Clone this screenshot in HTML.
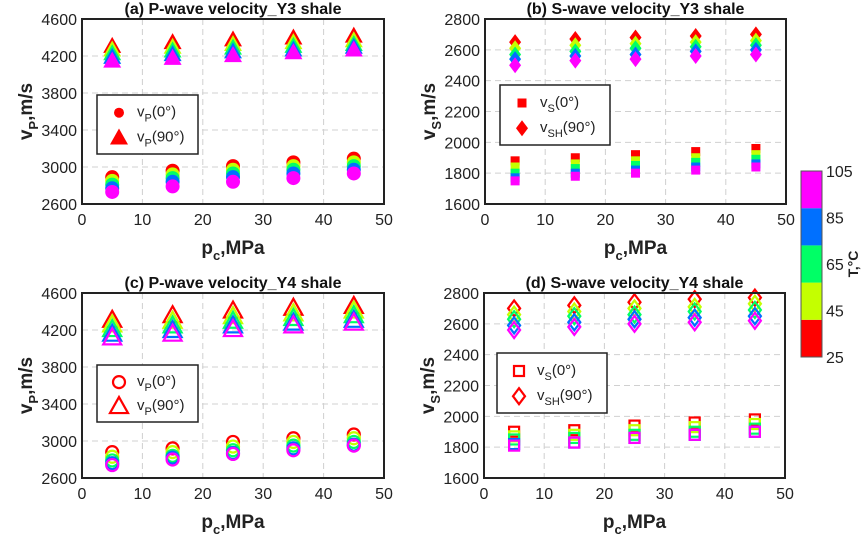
<!DOCTYPE html>
<html><head><meta charset="utf-8"><style>
body{margin:0;background:#fff}
svg{font-family:"Liberation Sans",Arial,sans-serif}
</style></head><body>
<svg id="c" width="865" height="537" xmlns="http://www.w3.org/2000/svg"></svg>
<script>
const pressures=[5,15,25,35,45];
const temps=[25,45,65,85,105];
const colors=["#ff0000","#c4ff00","#00ff66","#0070ff","#ff00ff"];
const xTicks=[0,10,20,30,40,50];
const pTicks=[2600,3000,3400,3800,4200,4600];
const sTicks=[1600,1800,2000,2200,2400,2600,2800];
const cbTicks=[25,45,65,85,105];
// panel a
const aP0=[[2890,2850,2810,2770,2730],[2960,2920,2880,2840,2790],[3010,2970,2930,2890,2840],[3050,3010,2970,2930,2880],[3090,3050,3010,2970,2930]];
const aP90=[[4310,4270,4230,4190,4150],[4350,4300,4260,4220,4180],[4380,4330,4290,4250,4210],[4400,4350,4310,4270,4240],[4420,4370,4330,4300,4270]];
// panel b
const bS0=[[1880,1840,1800,1770,1750],[1900,1860,1830,1800,1780],[1920,1880,1850,1820,1800],[1940,1900,1870,1840,1820],[1960,1920,1890,1860,1840]];
const bSH=[[2650,2610,2570,2540,2500],[2670,2630,2590,2560,2530],[2680,2640,2610,2570,2540],[2690,2650,2620,2590,2560],[2700,2660,2630,2600,2570]];
// panel c
const cP0=[[2880,2830,2790,2760,2740],[2920,2880,2840,2820,2800],[2990,2940,2900,2870,2860],[3030,2990,2950,2920,2900],[3070,3030,2990,2960,2950]];
const cP90=[[4310,4260,4210,4160,4120],[4360,4300,4250,4200,4160],[4410,4350,4300,4250,4210],[4440,4380,4330,4280,4250],[4460,4410,4360,4310,4280]];
// panel d
const dS0=[[1900,1870,1850,1820,1810],[1910,1880,1860,1830,1830],[1940,1910,1880,1860,1860],[1960,1930,1900,1880,1880],[1980,1950,1920,1900,1900]];
const dSH=[[2700,2660,2630,2590,2560],[2720,2680,2650,2610,2580],[2740,2700,2660,2630,2600],[2760,2710,2680,2640,2610],[2770,2730,2690,2650,2620]];

const svg=document.getElementById('c');
const NS="http://www.w3.org/2000/svg";
function mk(tag,at,txt){const e=document.createElementNS(NS,tag);for(const k in at)e.setAttribute(k,at[k]);if(txt!==undefined)e.textContent=txt;svg.appendChild(e);return e;}

function marker(type,x,y,col,filled){
  let e;
  const fill=filled?col:"none", sw=filled?0:2.2;
  if(type==="circle") e=mk("circle",{cx:x,cy:y,r:filled?7:6,fill:fill,stroke:col,"stroke-width":sw});
  else if(type==="tri") e=mk("polygon",{points:`${x},${y-9} ${x+9},${y+7} ${x-9},${y+7}`,fill:fill,stroke:col,"stroke-width":sw,"stroke-linejoin":"miter"});
  else if(type==="sq"){const h=filled?4.5:5;e=mk("rect",{x:x-h,y:y-h,width:2*h,height:2*h,fill:fill,stroke:col,"stroke-width":sw});}
  else e=mk("polygon",{points:`${x},${y-8} ${x+6},${y} ${x},${y+8} ${x-6},${y}`,fill:fill,stroke:col,"stroke-width":sw});
  return e;
}

function panel(o){
  const {L,R,T,B,ymin,ymax,yt,title,ylab,sub,s1,s2,m1,m2,filled,leg,l1,l2,key}=o;
  const xs=v=>L+(v-0)/50*(R-L);
  const ys=v=>B-(v-ymin)/(ymax-ymin)*(B-T);
  const g=mk("rect",{x:L,y:T,width:R-L,height:B-T,fill:"#fff"});
  
  
  xTicks.forEach(t=>{
    if(t>0&&t<50){const l=mk("line",{x1:xs(t),x2:xs(t),y1:T,y2:B,stroke:"#d0d0d0","stroke-dasharray":"6,4","stroke-width":1});
    }
    const tx=mk("text",{x:xs(t),y:B+21,"font-size":16,"text-anchor":"middle",fill:"#222"},t);
    
  });
  yt.forEach(t=>{
    if(t>ymin&&t<ymax){const l=mk("line",{x1:L,x2:R,y1:ys(t),y2:ys(t),stroke:"#d0d0d0","stroke-dasharray":"6,4","stroke-width":1});
    }
    const tx=mk("text",{x:L-5,y:ys(t)+6,"font-size":16,"text-anchor":"end",fill:"#222"},t);
    
  });
  [[s1,m1],[s2,m2]].forEach(([s,m])=>{
    pressures.forEach((p,i)=>{
      temps.forEach((tmp,j)=>{
        const e=marker(m,xs(p),ys(s[i][j]),colors[j],filled);
        
        
      });
    });
  });
  const fr=mk("rect",{x:L,y:T,width:R-L,height:B-T,fill:"none",stroke:"#222","stroke-width":2});
  
  const ti=mk("text",{x:(L+R)/2,y:T-5,"font-size":16,"font-weight":"bold","text-anchor":"middle",fill:"#111"},title);
  
  const xl=mk("text",{x:(L+R)/2,y:B+50,"font-size":19,"font-weight":"bold","text-anchor":"middle",fill:"#222"});
  
  xl.innerHTML='p<tspan font-size="13" dy="6">c</tspan><tspan dy="-6">,MPa</tspan>';
  const yl=mk("text",{transform:`translate(${L-50},${(T+B)/2}) rotate(-90)`,"font-size":19,"font-weight":"bold","text-anchor":"middle",fill:"#222"});
  
  yl.innerHTML=`v<tspan font-size="13" dy="6">${sub}</tspan><tspan dy="-6">,m/s</tspan>`;
  const lb=mk("rect",{x:leg[0],y:leg[1],width:leg[2],height:leg[3],fill:"#fff",stroke:"#222","stroke-width":1.5});
  
  const mx=leg[0]+22;
  [[m1,l1],[m2,l2]].forEach(([m,lab],k)=>{
    const y=leg[1]+leg[3]*(k===0?0.3:0.72);
    const e=marker(m,mx,y,colors[0],filled);
    if(m==="circle"&&filled){e.setAttribute('r',5);}
    
    const t=mk("text",{x:mx+18,y:y+4,"font-size":15,fill:"#222"});
    
    t.innerHTML=lab;
  });
}
const sub=(a,b,c)=>`${a}<tspan font-size="11" dy="5">${b}</tspan><tspan dy="-5">${c}</tspan>`;
panel({key:"panel-a",L:82,R:384,T:19,B:204,ymin:2600,ymax:4600,yt:pTicks,title:"(a) P-wave velocity_Y3 shale",sub:"P",s1:aP0,s2:aP90,m1:"circle",m2:"tri",filled:true,leg:[97,95,101,59],l1:sub("v","P","(0°)"),l2:sub("v","P","(90°)")});
panel({key:"panel-b",L:485,R:786,T:19,B:204,ymin:1600,ymax:2800,yt:sTicks,title:"(b) S-wave velocity_Y3 shale",sub:"S",s1:bS0,s2:bSH,m1:"sq",m2:"dia",filled:true,leg:[500,85,110,60],l1:sub("v","S","(0°)"),l2:sub("v","SH","(90°)")});
panel({key:"panel-c",L:82,R:384,T:293,B:478,ymin:2600,ymax:4600,yt:pTicks,title:"(c) P-wave velocity_Y4 shale",sub:"P",s1:cP0,s2:cP90,m1:"circle",m2:"tri",filled:false,leg:[97,365,101,57],l1:sub("v","P","(0°)"),l2:sub("v","P","(90°)")});
panel({key:"panel-d",L:484,R:785,T:293,B:478,ymin:1600,ymax:2800,yt:sTicks,title:"(d) S-wave velocity_Y4 shale",sub:"S",s1:dS0,s2:dSH,m1:"sq",m2:"dia",filled:false,leg:[497,353,110,60],l1:sub("v","S","(0°)"),l2:sub("v","SH","(90°)")});

// colorbar: 5 equal bands spanning 25..105
const cbT=171,cbB=357,cbL=801,cbR=822;
const cy=v=>cbB-(v-25)/80*(cbB-cbT);
const band=(cbB-cbT)/5;
colors.forEach((col,i)=>{
  const r=mk("rect",{x:cbL,y:cbB-(i+1)*band,width:cbR-cbL,height:band,fill:col});
  
});
{const r=mk("rect",{x:cbL,y:cbT,width:cbR-cbL,height:cbB-cbT,fill:"none",stroke:"#555","stroke-width":1});
}
cbTicks.forEach(t=>{
  const tx=mk("text",{x:826,y:cy(t)+6,"font-size":16,fill:"#222"},t);
  
});
{const t=mk("text",{transform:"translate(858,264) rotate(-90)","font-size":14,"font-weight":"bold","text-anchor":"middle",fill:"#222"},"T,°C");
}
</script>
</body></html>
